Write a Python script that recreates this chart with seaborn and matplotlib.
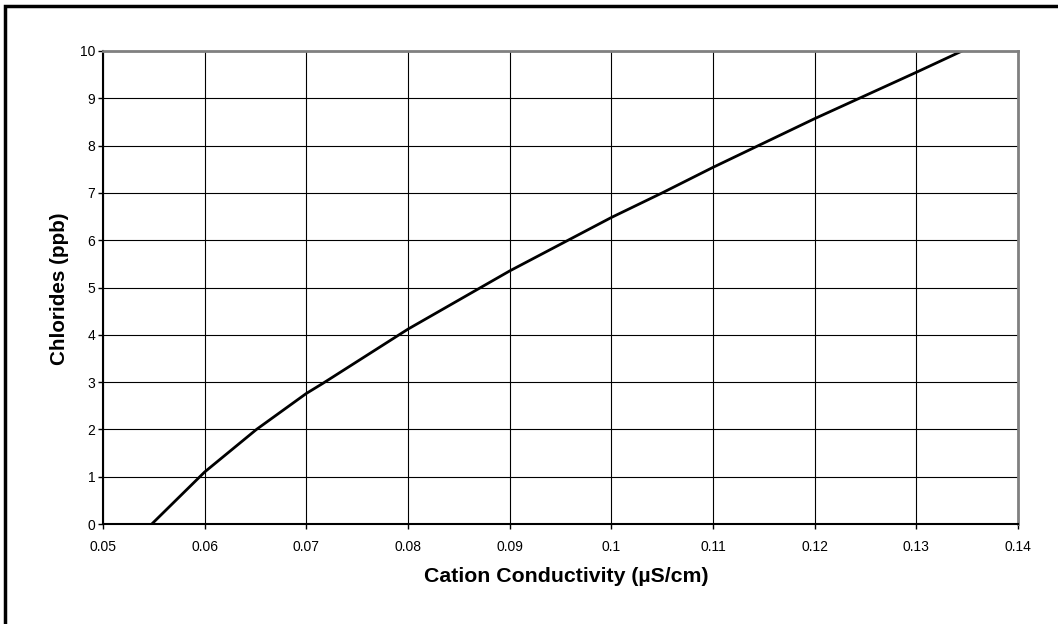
import matplotlib
matplotlib.use("Agg")
import matplotlib.pyplot as plt
import seaborn as sns
import pandas as pd
from matplotlib.patches import Rectangle

conductivity = [0.0548, 0.0600, 0.0651, 0.0700, 0.0716, 0.0800, 0.0900,
                0.1000, 0.1050, 0.1100, 0.1200, 0.1300, 0.1345]
chlorides = [0.0, 1.1, 2.0, 2.76, 2.97, 4.12, 5.35, 6.48, 7.0, 7.54, 8.57, 9.55, 10.0]
x_ticks = [0.05, 0.06, 0.07, 0.08, 0.09, 0.10, 0.11, 0.12, 0.13, 0.14]
x_tick_labels = ["0.05", "0.06", "0.07", "0.08", "0.09", "0.1", "0.11", "0.12", "0.13", "0.14"]
y_ticks = list(range(0, 11))
x_label = "Cation Conductivity (µS/cm)"
y_label = "Chlorides (ppb)"

sns.set_theme(style="white")
plt.rcParams["font.family"] = ["Liberation Sans", "DejaVu Sans"]

df = pd.DataFrame({"x": conductivity, "y": chlorides})

fig = plt.figure(figsize=(10.58, 6.24), dpi=100)
ax = fig.add_axes([103 / 1058, 1 - 524 / 624, (1018 - 103) / 1058, (524 - 51) / 624])

sns.lineplot(data=df, x="x", y="y", ax=ax, color="black", linewidth=2.0, sort=False)

ax.set_xlim(0.05, 0.14)
ax.set_ylim(0, 10)
ax.set_xticks(x_ticks)
ax.set_xticklabels(x_tick_labels)
ax.set_yticks(y_ticks)
ax.grid(True, color="black", linewidth=0.8)
ax.set_axisbelow(True)

for side in ["left", "bottom"]:
    ax.spines[side].set_color("black")
    ax.spines[side].set_linewidth(1.5)
for side in ["top", "right"]:
    ax.spines[side].set_color("#808080")
    ax.spines[side].set_linewidth(2.0)

ax.tick_params(axis="both", which="major", direction="out", length=3.5, width=1,
               color="black", labelsize=10, labelcolor="black", left=True, bottom=True)
ax.tick_params(axis="x", pad=8)
ax.tick_params(axis="y", pad=2)

ax.set_xlabel(x_label, fontsize=15.3, fontweight="bold", color="black")
ax.set_ylabel(y_label, fontsize=14.9, fontweight="bold", color="black")
ax.xaxis.label.set_va("center")
ax.yaxis.label.set_va("center")
ax.xaxis.set_label_coords(0.506, -0.110)
ax.yaxis.set_label_coords(-0.047, 0.497)

fig.patches.append(Rectangle((5 / 1058, -0.2), 1.5, (1 - 6 / 624) + 0.2,
                             transform=fig.transFigure, fill=False,
                             edgecolor="black", linewidth=2.5, zorder=10))

fig.savefig("out.png", dpi=100, facecolor="white")
